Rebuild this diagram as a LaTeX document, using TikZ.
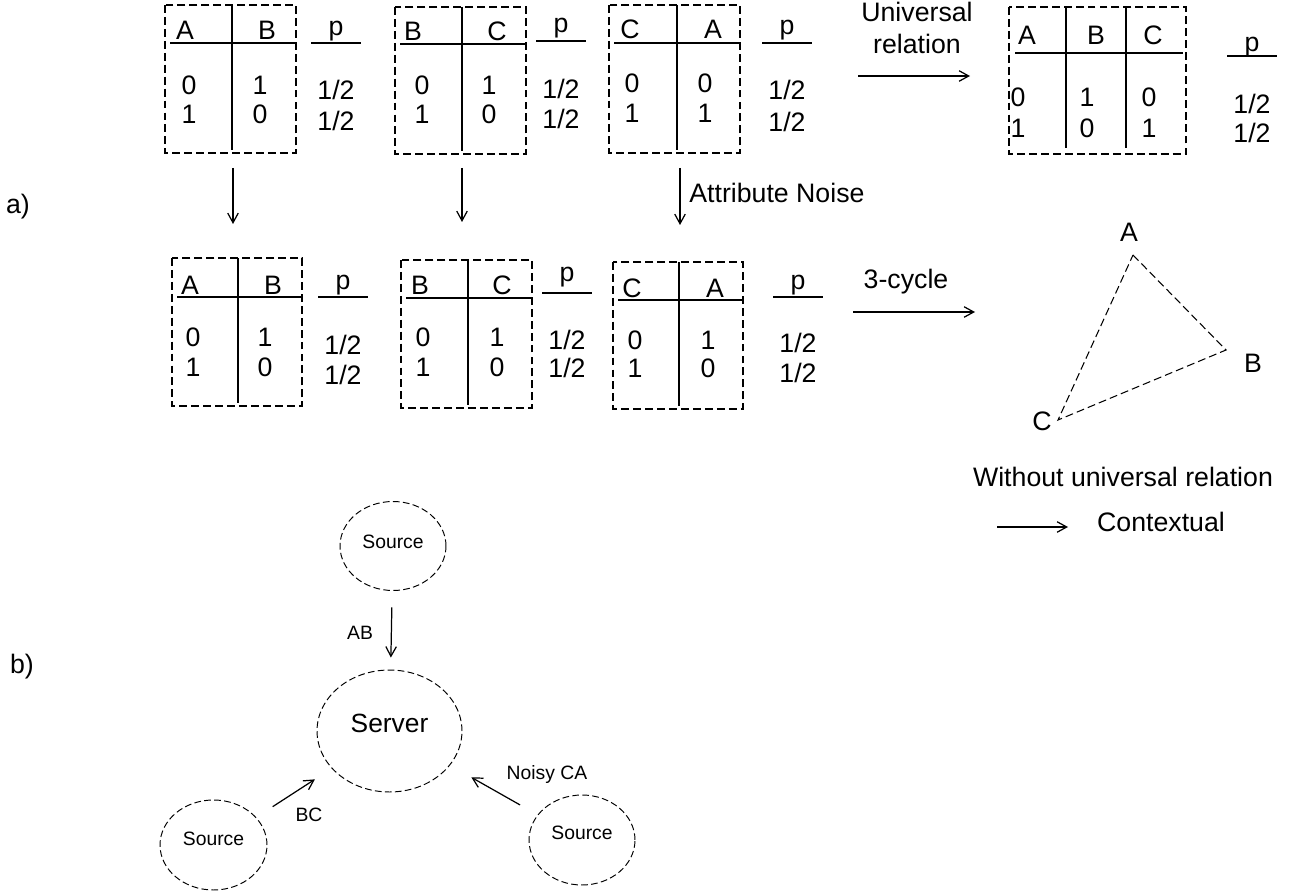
\documentclass[tikz,border=0pt]{standalone}
\usepackage{fontspec}
\setmainfont{Liberation Sans}
\usetikzlibrary{arrows.meta}
\usetikzlibrary{shapes.geometric}
\usetikzlibrary{positioning}

\tikzset{
  tbox/.style={line width=0.9pt, dash pattern=on 4.5pt off 2.3pt},
  rule/.style={line width=0.8pt},
  tri/.style={line width=0.6pt, dash pattern=on 4.5pt off 2.3pt},
  txt/.style={font=\fontsize{15.2}{18}\selectfont, inner sep=0pt},
  small/.style={font=\fontsize{11}{13}\selectfont, inner sep=0pt},
  blob/.style={ellipse, draw, line width=0.55pt, dash pattern=on 3.8pt off 1.9pt, inner sep=0pt},
  arr/.style={->, line width=0.7pt},
}

\begin{document}
\begin{tikzpicture}[x=0.02cm, y=-0.02cm, >={Straight Barb[length=5.5pt,width=6pt]}]
  \useasboundingbox (0,0) rectangle (1291,895);

  \node[txt] (parta) at (18,207) {a)};
  \node[txt] (partb) at (22,667) {b)};

  % table frames: box, divider, header rule
  \foreach \n/\xa/\ya/\xb/\yb/\xd/\yh in {1/165/5/296/153/232/43, 2/395/7/526/154/462/44,
      3/609/5/740/153/677/43, 5/172/258/302/406/238/297, 6/401/260/532/408/468/298,
      7/613/262/743/409/679/300} {
    \draw[tbox] (\xa,\ya) rectangle (\xb,\yb);
    \draw[rule] (\xd,\ya) -- (\xd,\yb-3);
    \draw[rule] (\xa+5,\yh) -- (\xb,\yh);
  }
  \draw[tbox] (1009,7) rectangle (1186,154);
  \draw[rule] (1066,7) -- (1066,148);
  \draw[rule] (1126,7) -- (1126,148);
  \draw[rule] (1015,53) -- (1183,53);

  % table entries
  \foreach \x/\y/\t [count=\k] in {185/30/A, 267/30/B, 189/85/0, 189/114/1, 260/85/1, 260/114/0,
      413/31/B, 497/31/C, 422/85/0, 422/114/1, 489/85/1, 489/114/0,
      630/29/C, 713/29/A, 632/83/0, 632/113/1, 705/83/0, 705/113/1,
      1027/35/A, 1096/35/B, 1153/35/C, 1018/97/0, 1018/128/1, 1087/97/1, 1087/128/0,
      1149/97/0, 1149/128/1,
      190/285/A, 273/285/B, 193/337/0, 193/367/1, 265/337/1, 265/367/0,
      420/285/B, 502/285/C, 423/337/0, 423/367/1, 497/337/1, 497/367/0,
      632/288/C, 715/288/A, 635/340/0, 635/368/1, 708/340/1, 708/368/0} {
    \node[txt] (cell\k) at (\x,\y) {\t};
  }

  % probability columns
  \foreach \n/\x/\py/\ly/\qa/\qb in {1/336/31/43/90/121, 2/561/28/41/89/119, 3/787/30/43/90/122,
      4/1252/47/56/104/133, 5/343/285/297/345/375, 6/567/277/293/340/368, 7/798/285/297/343/373} {
    \node[txt] (p\n) at (\x,\py) {p};
    \draw[rule] (\x-25,\ly) -- (\x+25,\ly);
    \node[txt] (pa\n) at (\x,\qa) {1/2};
    \node[txt] (pb\n) at (\x,\qb) {1/2};
  }

  % arrows of part a
  \coordinate (u0) at (858,76);  \coordinate (u1) at (970,76);
  \coordinate (d1a) at (233,168); \coordinate (d1b) at (233,224);
  \coordinate (d2a) at (462,168); \coordinate (d2b) at (462,222);
  \coordinate (d3a) at (680,168); \coordinate (d3b) at (680,225);
  \coordinate (k0) at (853,312); \coordinate (k1) at (975,312);
  \coordinate (w0) at (997,527); \coordinate (w1) at (1068,527);
  \draw[arr] (u0) -- (u1);
  \draw[arr] (d1a) -- (d1b);
  \draw[arr] (d2a) -- (d2b);
  \draw[arr] (d3a) -- (d3b);
  \draw[arr] (k0) -- (k1);
  \draw[arr] (w0) -- (w1);

  \node[txt, align=center] (univ) at (917,28) {Universal\\relation};
  \node[txt, anchor=west] (noise) at (689,193) {Attribute Noise};
  \node[txt] (cyc) at (906,282) {3-cycle};
  \node[txt] (without) at (1123,477) {Without universal relation};
  \node[txt] (ctx) at (1161,522) {Contextual};

  % 3-cycle
  \coordinate (va) at (1133,255);
  \coordinate (vb) at (1226,350);
  \coordinate (vc) at (1058,420);
  \draw[tri] (va) -- (vb) -- (vc) -- cycle;
  \node[txt] (na) at (1129,232) {A};
  \node[txt] (nb) at (1253,363) {B};
  \node[txt] (nc) at (1042,421) {C};

  % part b
  \node[blob, small, text depth=5pt, minimum width=2.12cm, minimum height=1.78cm] (src1) at (393,546) {Source};
  \node[blob, font=\fontsize{15}{18}\selectfont, text depth=9pt, minimum width=2.9cm, minimum height=2.44cm] (server) at (389.5,731) {Server};
  \node[blob, small, text depth=7pt, minimum width=2.14cm, minimum height=1.8cm] (src2) at (213.5,845) {Source};
  \node[blob, small, text depth=8pt, minimum width=2.12cm, minimum height=1.8cm] (src3) at (582,840) {Source};

  \draw[arr, shorten <=0.33cm, shorten >=0.24cm] (src1) -- (server);
  \draw[arr, shorten <=0.39cm, shorten >=0.40cm] (src2) -- (server);
  \draw[arr, shorten <=0.40cm, shorten >=0.49cm] (src3) -- (server);

  \node[small] (lab) at (360,633) {AB};
  \node[small] (lbc) at (309,815) {BC};
  \node[small] (lca) at (547,774) {Noisy CA};

\end{tikzpicture}
\end{document}
